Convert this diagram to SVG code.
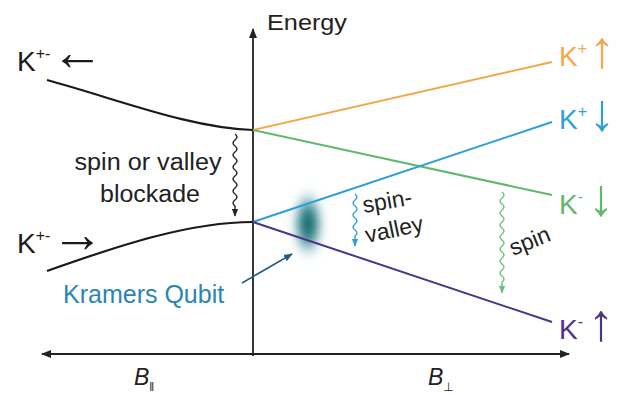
<svg xmlns="http://www.w3.org/2000/svg" width="629" height="394" viewBox="0 0 629 394">
<style>
text{font-family:"Liberation Sans",Arial,"DejaVu Sans",sans-serif;}
.ax{stroke:#222;stroke-width:1.8;fill:none;}
.lvl{stroke:#1a1a1a;stroke-width:2.2;fill:none;}
.lab{font-size:28px;}
.sup{font-size:16px;}
.arr{font-size:52px;}
.note{font-size:23px;fill:#222;}
.wave{fill:none;stroke-width:1.4;}
</style>
<defs>
<marker id="ah" viewBox="0 0 10 10" refX="9" refY="5" markerWidth="10" markerHeight="10" markerUnits="userSpaceOnUse" orient="auto-start-reverse"><path d="M0,1 L10,5 L0,9 Z" fill="#222"/></marker>
<marker id="wk" viewBox="0 0 10 10" refX="9" refY="5" markerWidth="8" markerHeight="8" markerUnits="userSpaceOnUse" orient="auto"><path d="M0,1 L10,5 L0,9 Z" fill="#222"/></marker>
<marker id="wb" viewBox="0 0 10 10" refX="9" refY="5" markerWidth="8" markerHeight="8" markerUnits="userSpaceOnUse" orient="auto"><path d="M0,1 L10,5 L0,9 Z" fill="#2e9fd8"/></marker>
<marker id="wg" viewBox="0 0 10 10" refX="9" refY="5" markerWidth="8" markerHeight="8" markerUnits="userSpaceOnUse" orient="auto"><path d="M0,1 L10,5 L0,9 Z" fill="#6cc07a"/></marker>
<marker id="kq" viewBox="0 0 10 10" refX="9" refY="5" markerWidth="9" markerHeight="9" markerUnits="userSpaceOnUse" orient="auto"><path d="M0,1 L10,5 L0,9 Z" fill="#1f5f86"/></marker>
<radialGradient id="blobg" cx="0.5" cy="0.5" r="0.5">
<stop offset="0" stop-color="#0d5f60"/>
<stop offset="0.4" stop-color="#2b7f85"/>
<stop offset="1" stop-color="#9cc7d6" stop-opacity="0"/>
</radialGradient>
<filter id="blur" x="-1" y="-1" width="3" height="3"><feGaussianBlur stdDeviation="4"/></filter>
</defs>

<g id="blob">
<ellipse cx="308" cy="224" rx="17" ry="36" fill="url(#blobg)" filter="url(#blur)"/>
</g>

<g id="connectors">
<path id="axis-h" class="ax" d="M42,354 H569" marker-start="url(#ah)" marker-end="url(#ah)"/>
<path id="axis-v" class="ax" d="M253,356 V29" marker-end="url(#ah)"/>
<path id="curve-upper" class="lvl" d="M47,80 C120,100 190,128 253,130"/>
<path id="curve-lower" class="lvl" d="M47,271 C120,245 190,222 253,222"/>
<line id="line-orange" x1="253" y1="130" x2="552" y2="62" stroke="#f3a84c" stroke-width="2"/>
<line id="line-green" x1="253" y1="130" x2="552" y2="195" stroke="#5fb86c" stroke-width="2"/>
<line id="line-blue" x1="253" y1="222" x2="552" y2="122" stroke="#2f9fd8" stroke-width="2"/>
<line id="line-purple" x1="253" y1="222" x2="552" y2="322" stroke="#4d3488" stroke-width="2"/>
<path id="wave-blockade" class="wave" stroke="#222" d="M235,134 q4,3 0,6 t0,6 t0,6 t0,6 t0,6 t0,6 t0,6 t0,6 t0,6 t0,6 t0,6 t0,6 l0,10" marker-end="url(#wk)"/>
<path id="wave-spinvalley" class="wave" stroke="#2e9fd8" d="M355,194 q4,3 0,6 t0,6 t0,6 t0,6 t0,6 t0,6 t0,6 l0,10" marker-end="url(#wb)"/>
<path id="wave-spin" class="wave" stroke="#6cc07a" d="M502,192 q4,3 0,6 t0,6 t0,6 t0,6 t0,6 t0,6 t0,6 t0,6 t0,6 t0,6 t0,6 t0,6 t0,6 t0,6 t0,6 l0,11" marker-end="url(#wg)"/>
<path id="arrow-kramers" d="M242,283 L292,254" stroke="#1f5f86" stroke-width="1.6" fill="none" marker-end="url(#kq)"/>
</g>

<g id="label-energy"><text x="267" y="30" font-size="22" fill="#222" textLength="80" lengthAdjust="spacingAndGlyphs">Energy</text></g>

<g id="label-kpm-left"><text class="lab" x="17" y="71" fill="#1a1a1a">K<tspan class="sup" dy="-12">+-</tspan><tspan class="arr" dy="11" dx="1">←</tspan></text></g>
<g id="label-kpm-right"><text class="lab" x="17" y="253" fill="#1a1a1a">K<tspan class="sup" dy="-12">+-</tspan><tspan class="arr" dy="11" dx="1">→</tspan></text></g>

<g id="label-blockade">
<text class="note" x="148" y="170" text-anchor="middle" textLength="147" lengthAdjust="spacingAndGlyphs">spin or valley</text>
<text class="note" x="150" y="202" text-anchor="middle" textLength="100" lengthAdjust="spacingAndGlyphs">blockade</text>
</g>

<g id="label-kramers"><text x="63" y="303" font-size="25" fill="#2a86b0">Kramers Qubit</text></g>

<g id="label-spinvalley">
<text class="note" x="364" y="213" transform="rotate(-10 364 213)">spin-</text>
<text class="note" x="367" y="243" transform="rotate(-12 367 243)">valley</text>
</g>
<g id="label-spin"><text class="note" x="513" y="256" transform="rotate(-22 513 256)">spin</text></g>

<g id="label-kp-up"><text class="lab" x="559" y="66" fill="#f3a84c">K<tspan class="sup" dy="-12">+</tspan><tspan class="arr" dy="13" dx="2">↑</tspan></text></g>
<g id="label-kp-down"><text class="lab" x="559" y="129" fill="#2f9fd8">K<tspan class="sup" dy="-12">+</tspan><tspan class="arr" dy="13" dx="2">↓</tspan></text></g>
<g id="label-km-down"><text class="lab" x="559" y="214" fill="#5fb86c">K<tspan class="sup" dy="-12">-</tspan><tspan class="arr" dy="13" dx="5">↓</tspan></text></g>
<g id="label-km-up"><text class="lab" x="559" y="339" fill="#4d3488">K<tspan class="sup" dy="-12">-</tspan><tspan class="arr" dy="13" dx="5">↑</tspan></text></g>

<g id="label-bpar"><text x="134" y="385" font-size="23" font-style="italic" fill="#222">B<tspan font-size="12" font-style="normal" dy="6">‖</tspan></text></g>
<g id="label-bperp"><text x="428" y="385" font-size="23" font-style="italic" fill="#222">B<tspan font-size="12" font-style="normal" dy="6">⊥</tspan></text></g>
</svg>
